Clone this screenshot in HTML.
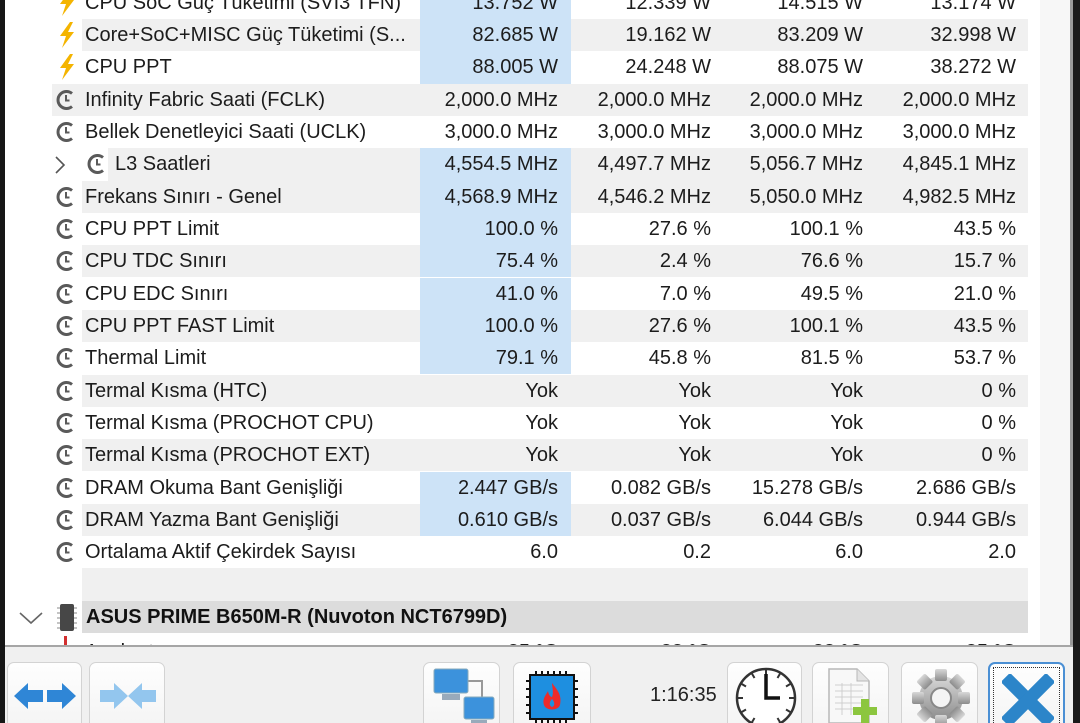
<!DOCTYPE html>
<html><head><meta charset="utf-8">
<style>
*{margin:0;padding:0;box-sizing:border-box}
html,body{width:1080px;height:723px;overflow:hidden;background:#f0f0f0;font-family:"Liberation Sans","DejaVu Sans",sans-serif;}
#root{position:relative;width:1080px;height:723px;overflow:hidden;background:#f0f0f0;}
#tbl{position:absolute;left:0;top:0;width:1073px;height:645px;overflow:hidden;background:#fff;}
.r{position:absolute;left:0;width:1073px;height:32.4px;color:#1c1c1c;font-size:20px;}
.g{position:absolute;top:0;bottom:0;right:45px;background:#f0f0f0;}
.h{position:absolute;top:0;bottom:0;right:45px;background:#dcdcdc;}
.hl{position:absolute;left:420px;width:151px;top:0;bottom:0;background:#cde3f7;}
.lb{position:absolute;left:85px;top:0;line-height:32.4px;white-space:nowrap;}
.v{position:absolute;top:0;line-height:32.4px;text-align:right;white-space:nowrap;}
.c1{left:400px;width:158px}.c2{left:551px;width:160px}.c3{left:704px;width:159px}.c4{left:856px;width:160px}
.ic{position:absolute;left:55px;top:4px;}
.bt{position:absolute;left:57px;top:3px;}
.btn{position:absolute;top:662px;height:75px;border:1px solid #d3d3d3;border-radius:7px;background:linear-gradient(#fefefe,#f3f3f3);}
</style></head><body><div id="root">
<div id="tbl">
<div style="position:absolute;left:1040px;top:0;width:30px;height:645px;background:#f7f7f7"></div>
<div style="position:absolute;left:1070px;top:0;width:3px;height:645px;background:#9a9a9a"></div>

<div class="r" style="top:-13.5px"><div class="hl"></div>
<svg class="bt" width="20" height="26" viewBox="0 0 20 26"><polygon points="13,0 3,14 9,14 5,26 17,10 11,10 16,0" fill="#f4b400"/></svg>
<span class="lb">CPU SoC Güç Tüketimi (SVI3 TFN)</span><span class="v c1">13.752 W</span><span class="v c2">12.339 W</span><span class="v c3">14.515 W</span><span class="v c4">13.174 W</span></div>
<div class="r" style="top:18.8px"><div class="g" style="left:82px"></div><div class="hl"></div>
<svg class="bt" width="20" height="26" viewBox="0 0 20 26"><polygon points="13,0 3,14 9,14 5,26 17,10 11,10 16,0" fill="#f4b400"/></svg>
<span class="lb">Core+SoC+MISC Güç Tüketimi (S...</span><span class="v c1">82.685 W</span><span class="v c2">19.162 W</span><span class="v c3">83.209 W</span><span class="v c4">32.998 W</span></div>
<div class="r" style="top:51.2px"><div class="hl"></div>
<svg class="bt" width="20" height="26" viewBox="0 0 20 26"><polygon points="13,0 3,14 9,14 5,26 17,10 11,10 16,0" fill="#f4b400"/></svg>
<span class="lb">CPU PPT</span><span class="v c1">88.005 W</span><span class="v c2">24.248 W</span><span class="v c3">88.075 W</span><span class="v c4">38.272 W</span></div>
<div class="r" style="top:83.5px"><div class="g" style="left:52px"></div>
<svg class="ic" width="22" height="24" viewBox="0 0 22 24"><path d="M17 5.5 A8.5 8.5 0 1 0 17 18.5" fill="none" stroke="#5a5a5a" stroke-width="3"/><path d="M11 7 V12.5 H14.5" fill="none" stroke="#5a5a5a" stroke-width="2"/></svg>
<span class="lb">Infinity Fabric Saati (FCLK)</span><span class="v c1">2,000.0 MHz</span><span class="v c2">2,000.0 MHz</span><span class="v c3">2,000.0 MHz</span><span class="v c4">2,000.0 MHz</span></div>
<div class="r" style="top:115.8px">
<svg class="ic" width="22" height="24" viewBox="0 0 22 24"><path d="M17 5.5 A8.5 8.5 0 1 0 17 18.5" fill="none" stroke="#5a5a5a" stroke-width="3"/><path d="M11 7 V12.5 H14.5" fill="none" stroke="#5a5a5a" stroke-width="2"/></svg>
<span class="lb">Bellek Denetleyici Saati (UCLK)</span><span class="v c1">3,000.0 MHz</span><span class="v c2">3,000.0 MHz</span><span class="v c3">3,000.0 MHz</span><span class="v c4">3,000.0 MHz</span></div>
<div class="r" style="top:148.2px"><div class="g" style="left:108px"></div><div class="hl"></div>
<svg style="position:absolute;left:54px;top:8px" width="12" height="18" viewBox="0 0 12 18"><polyline points="2,1 10,9 2,17" fill="none" stroke="#555" stroke-width="1.6"/></svg>
<svg class="ic" style="left:86px" width="22" height="24" viewBox="0 0 22 24"><path d="M17 5.5 A8.5 8.5 0 1 0 17 18.5" fill="none" stroke="#5a5a5a" stroke-width="3"/><path d="M11 7 V12.5 H14.5" fill="none" stroke="#5a5a5a" stroke-width="2"/></svg>
<span class="lb" style="left:115px">L3 Saatleri</span><span class="v c1">4,554.5 MHz</span><span class="v c2">4,497.7 MHz</span><span class="v c3">5,056.7 MHz</span><span class="v c4">4,845.1 MHz</span></div>
<div class="r" style="top:180.5px"><div class="g" style="left:82px"></div><div class="hl"></div>
<svg class="ic" width="22" height="24" viewBox="0 0 22 24"><path d="M17 5.5 A8.5 8.5 0 1 0 17 18.5" fill="none" stroke="#5a5a5a" stroke-width="3"/><path d="M11 7 V12.5 H14.5" fill="none" stroke="#5a5a5a" stroke-width="2"/></svg>
<span class="lb">Frekans Sınırı - Genel</span><span class="v c1">4,568.9 MHz</span><span class="v c2">4,546.2 MHz</span><span class="v c3">5,050.0 MHz</span><span class="v c4">4,982.5 MHz</span></div>
<div class="r" style="top:212.8px"><div class="hl"></div>
<svg class="ic" width="22" height="24" viewBox="0 0 22 24"><path d="M17 5.5 A8.5 8.5 0 1 0 17 18.5" fill="none" stroke="#5a5a5a" stroke-width="3"/><path d="M11 7 V12.5 H14.5" fill="none" stroke="#5a5a5a" stroke-width="2"/></svg>
<span class="lb">CPU PPT Limit</span><span class="v c1">100.0 %</span><span class="v c2">27.6 %</span><span class="v c3">100.1 %</span><span class="v c4">43.5 %</span></div>
<div class="r" style="top:245.1px"><div class="g" style="left:82px"></div><div class="hl"></div>
<svg class="ic" width="22" height="24" viewBox="0 0 22 24"><path d="M17 5.5 A8.5 8.5 0 1 0 17 18.5" fill="none" stroke="#5a5a5a" stroke-width="3"/><path d="M11 7 V12.5 H14.5" fill="none" stroke="#5a5a5a" stroke-width="2"/></svg>
<span class="lb">CPU TDC Sınırı</span><span class="v c1">75.4 %</span><span class="v c2">2.4 %</span><span class="v c3">76.6 %</span><span class="v c4">15.7 %</span></div>
<div class="r" style="top:277.5px"><div class="hl"></div>
<svg class="ic" width="22" height="24" viewBox="0 0 22 24"><path d="M17 5.5 A8.5 8.5 0 1 0 17 18.5" fill="none" stroke="#5a5a5a" stroke-width="3"/><path d="M11 7 V12.5 H14.5" fill="none" stroke="#5a5a5a" stroke-width="2"/></svg>
<span class="lb">CPU EDC Sınırı</span><span class="v c1">41.0 %</span><span class="v c2">7.0 %</span><span class="v c3">49.5 %</span><span class="v c4">21.0 %</span></div>
<div class="r" style="top:309.8px"><div class="g" style="left:82px"></div><div class="hl"></div>
<svg class="ic" width="22" height="24" viewBox="0 0 22 24"><path d="M17 5.5 A8.5 8.5 0 1 0 17 18.5" fill="none" stroke="#5a5a5a" stroke-width="3"/><path d="M11 7 V12.5 H14.5" fill="none" stroke="#5a5a5a" stroke-width="2"/></svg>
<span class="lb">CPU PPT FAST Limit</span><span class="v c1">100.0 %</span><span class="v c2">27.6 %</span><span class="v c3">100.1 %</span><span class="v c4">43.5 %</span></div>
<div class="r" style="top:342.1px"><div class="hl"></div>
<svg class="ic" width="22" height="24" viewBox="0 0 22 24"><path d="M17 5.5 A8.5 8.5 0 1 0 17 18.5" fill="none" stroke="#5a5a5a" stroke-width="3"/><path d="M11 7 V12.5 H14.5" fill="none" stroke="#5a5a5a" stroke-width="2"/></svg>
<span class="lb">Thermal Limit</span><span class="v c1">79.1 %</span><span class="v c2">45.8 %</span><span class="v c3">81.5 %</span><span class="v c4">53.7 %</span></div>
<div class="r" style="top:374.5px"><div class="g" style="left:82px"></div>
<svg class="ic" width="22" height="24" viewBox="0 0 22 24"><path d="M17 5.5 A8.5 8.5 0 1 0 17 18.5" fill="none" stroke="#5a5a5a" stroke-width="3"/><path d="M11 7 V12.5 H14.5" fill="none" stroke="#5a5a5a" stroke-width="2"/></svg>
<span class="lb">Termal Kısma (HTC)</span><span class="v c1">Yok</span><span class="v c2">Yok</span><span class="v c3">Yok</span><span class="v c4">0 %</span></div>
<div class="r" style="top:406.8px">
<svg class="ic" width="22" height="24" viewBox="0 0 22 24"><path d="M17 5.5 A8.5 8.5 0 1 0 17 18.5" fill="none" stroke="#5a5a5a" stroke-width="3"/><path d="M11 7 V12.5 H14.5" fill="none" stroke="#5a5a5a" stroke-width="2"/></svg>
<span class="lb">Termal Kısma (PROCHOT CPU)</span><span class="v c1">Yok</span><span class="v c2">Yok</span><span class="v c3">Yok</span><span class="v c4">0 %</span></div>
<div class="r" style="top:439.1px"><div class="g" style="left:82px"></div>
<svg class="ic" width="22" height="24" viewBox="0 0 22 24"><path d="M17 5.5 A8.5 8.5 0 1 0 17 18.5" fill="none" stroke="#5a5a5a" stroke-width="3"/><path d="M11 7 V12.5 H14.5" fill="none" stroke="#5a5a5a" stroke-width="2"/></svg>
<span class="lb">Termal Kısma (PROCHOT EXT)</span><span class="v c1">Yok</span><span class="v c2">Yok</span><span class="v c3">Yok</span><span class="v c4">0 %</span></div>
<div class="r" style="top:471.5px"><div class="hl"></div>
<svg class="ic" width="22" height="24" viewBox="0 0 22 24"><path d="M17 5.5 A8.5 8.5 0 1 0 17 18.5" fill="none" stroke="#5a5a5a" stroke-width="3"/><path d="M11 7 V12.5 H14.5" fill="none" stroke="#5a5a5a" stroke-width="2"/></svg>
<span class="lb">DRAM Okuma Bant Genişliği</span><span class="v c1">2.447 GB/s</span><span class="v c2">0.082 GB/s</span><span class="v c3">15.278 GB/s</span><span class="v c4">2.686 GB/s</span></div>
<div class="r" style="top:503.8px"><div class="g" style="left:82px"></div><div class="hl"></div>
<svg class="ic" width="22" height="24" viewBox="0 0 22 24"><path d="M17 5.5 A8.5 8.5 0 1 0 17 18.5" fill="none" stroke="#5a5a5a" stroke-width="3"/><path d="M11 7 V12.5 H14.5" fill="none" stroke="#5a5a5a" stroke-width="2"/></svg>
<span class="lb">DRAM Yazma Bant Genişliği</span><span class="v c1">0.610 GB/s</span><span class="v c2">0.037 GB/s</span><span class="v c3">6.044 GB/s</span><span class="v c4">0.944 GB/s</span></div>
<div class="r" style="top:536.1px">
<svg class="ic" width="22" height="24" viewBox="0 0 22 24"><path d="M17 5.5 A8.5 8.5 0 1 0 17 18.5" fill="none" stroke="#5a5a5a" stroke-width="3"/><path d="M11 7 V12.5 H14.5" fill="none" stroke="#5a5a5a" stroke-width="2"/></svg>
<span class="lb">Ortalama Aktif Çekirdek Sayısı</span><span class="v c1">6.0</span><span class="v c2">0.2</span><span class="v c3">6.0</span><span class="v c4">2.0</span></div>
<div class="r" style="top:568.4px"><div class="g" style="left:82px"></div></div>
<div class="r" style="top:600.8px"><div class="h" style="left:82px"></div>
<svg style="position:absolute;left:19px;top:10px" width="24" height="14" viewBox="0 0 24 14"><polyline points="1,2 12,12 23,2" fill="none" stroke="#666" stroke-width="1.6"/></svg>
<svg style="position:absolute;left:56px;top:2px" width="22" height="29" viewBox="0 0 22 29"><rect x="4" y="1" width="14" height="27" rx="2" fill="#474747"/><g stroke="#888" stroke-width="1"><line x1="1" y1="5" x2="4" y2="5"/><line x1="1" y1="10" x2="4" y2="10"/><line x1="1" y1="15" x2="4" y2="15"/><line x1="1" y1="20" x2="4" y2="20"/><line x1="1" y1="25" x2="4" y2="25"/><line x1="18" y1="5" x2="21" y2="5"/><line x1="18" y1="10" x2="21" y2="10"/><line x1="18" y1="15" x2="21" y2="15"/><line x1="18" y1="20" x2="21" y2="20"/><line x1="18" y1="25" x2="21" y2="25"/></g></svg>
<span class="lb" style="left:86px;font-weight:bold;color:#111">ASUS PRIME B650M-R (Nuvoton NCT6799D)</span></div>
<div class="r" style="top:636px">
<div style="position:absolute;left:64px;top:0px;width:3px;height:9px;background:#d23030"></div>
<span class="lb">Anakart</span><span class="v c1">35 °C</span><span class="v c2">33 °C</span><span class="v c3">38 °C</span><span class="v c4">35 °C</span></div>
</div>

<div style="position:absolute;left:0;top:645px;width:1073px;height:2px;background:#a6a6a6"></div>
<div style="position:absolute;left:0;top:0;width:5px;height:723px;background:#161616"></div>
<div style="position:absolute;left:1073px;top:0;width:7px;height:723px;background:#1a1a1a"></div>

<div class="btn" style="left:7px;width:75px">
<svg style="position:absolute;left:5px;top:18px" width="64" height="30" viewBox="0 0 64 30"><polygon points="1,15 15,2 15,9 30,9 30,21 15,21 15,28" fill="#2f86d6"/><polygon points="63,15 49,2 49,9 34,9 34,21 49,21 49,28" fill="#2f86d6"/></svg></div>
<div class="btn" style="left:89px;width:76px">
<svg style="position:absolute;left:8px;top:18px" width="60" height="30" viewBox="0 0 60 30"><polygon points="30,15 16,2 16,9 2,9 2,21 16,21 16,28" fill="#93c6ee"/><polygon points="30,15 44,2 44,9 58,9 58,21 44,21 44,28" fill="#93c6ee"/></svg></div>
<div class="btn" style="left:423px;width:77px">
<svg style="position:absolute;left:6px;top:4px" width="66" height="62" viewBox="0 0 66 62"><polyline points="30,14 52,14 52,34" fill="none" stroke="#999" stroke-width="2"/><rect x="4" y="2" width="34" height="24" rx="2" fill="#3c92dc" stroke="#8ab" stroke-width="1"/><rect x="12" y="27" width="18" height="6" fill="#9ab"/><rect x="34" y="30" width="30" height="22" rx="2" fill="#3c92dc" stroke="#8ab" stroke-width="1"/><rect x="41" y="53" width="16" height="6" fill="#9ab"/></svg></div>
<div class="btn" style="left:513px;width:78px">
<svg style="position:absolute;left:10px;top:6px" width="56" height="56" viewBox="0 0 56 56"><g stroke="#111" stroke-width="2"><line x1="12" y1="2" x2="12" y2="54"/><line x1="18" y1="2" x2="18" y2="54"/><line x1="24" y1="2" x2="24" y2="54"/><line x1="30" y1="2" x2="30" y2="54"/><line x1="36" y1="2" x2="36" y2="54"/><line x1="42" y1="2" x2="42" y2="54"/><line x1="2" y1="12" x2="54" y2="12"/><line x1="2" y1="20" x2="54" y2="20"/><line x1="2" y1="28" x2="54" y2="28"/><line x1="2" y1="36" x2="54" y2="36"/><line x1="2" y1="44" x2="54" y2="44"/></g><rect x="6" y="6" width="44" height="44" fill="#1e8fe0" stroke="#111" stroke-width="2"/><path d="M28 14 C34 22 38 26 36 36 C34 42 22 42 20 36 C18 30 22 26 24 22 C25 28 28 28 28 28 C30 24 28 18 28 14Z" fill="#ee2b2b"/><path d="M28 30 C31 33 31 37 28 38 C25 37 25 33 28 30Z" fill="#1e8fe0"/></svg></div>
<div style="position:absolute;left:650px;top:683px;font-size:20px;color:#222;line-height:24px">1:16:35</div>
<div class="btn" style="left:727px;width:75px">
<svg style="position:absolute;left:6px;top:1px" width="64" height="64" viewBox="0 0 64 64"><circle cx="32" cy="34" r="29" fill="#fff" stroke="#333" stroke-width="2.5"/><g stroke="#333" stroke-width="2"><line x1="32" y1="5" x2="32" y2="11"/><line x1="61" y1="34" x2="55" y2="34"/><line x1="3" y1="34" x2="9" y2="34"/><line x1="46.5" y1="8.9" x2="43.5" y2="14"/><line x1="57.1" y1="19.5" x2="52" y2="22.5"/><line x1="17.5" y1="8.9" x2="20.5" y2="14"/><line x1="6.9" y1="19.5" x2="12" y2="22.5"/><line x1="6.9" y1="48.5" x2="12" y2="45.5"/><line x1="57.1" y1="48.5" x2="52" y2="45.5"/><line x1="17.5" y1="59" x2="20.5" y2="54"/><line x1="46.5" y1="59" x2="43.5" y2="54"/></g><polyline points="32,10 32,34 46,34" fill="none" stroke="#111" stroke-width="3.5"/></svg></div>
<div class="btn" style="left:812px;width:77px">
<svg style="position:absolute;left:14px;top:4px" width="60" height="60" viewBox="0 0 60 60"><path d="M2 2 H30 L42 14 V56 H2Z" fill="#f8f8f8" stroke="#b8b8b8" stroke-width="1.5"/><path d="M30 2 V14 H42" fill="#e4e4e4" stroke="#b8b8b8" stroke-width="1"/><g stroke="#cfcfcf" stroke-width="1"><line x1="8" y1="18" x2="36" y2="18"/><line x1="8" y1="24" x2="36" y2="24"/><line x1="8" y1="30" x2="36" y2="30"/><line x1="8" y1="36" x2="36" y2="36"/><line x1="8" y1="42" x2="36" y2="42"/><line x1="15" y1="16" x2="15" y2="48"/><line x1="24" y1="16" x2="24" y2="48"/></g><path d="M34 32 H42 V40 H50 V48 H42 V56 H34 V48 H26 V40 H34Z" fill="#8cc63f"/></svg></div>
<div class="btn" style="left:901px;width:77px">
<svg style="position:absolute;left:8px;top:2px" width="62" height="62" viewBox="0 0 62 62"><defs><linearGradient id="gg" x1="0" y1="0" x2="0" y2="1"><stop offset="0" stop-color="#d8d8d8"/><stop offset="1" stop-color="#8c8c8c"/></linearGradient></defs><g fill="url(#gg)"><circle cx="31" cy="33" r="22"/><rect x="25" y="4" width="12" height="12" rx="2"/><rect x="25" y="50" width="12" height="12" rx="2"/><rect x="2" y="27" width="12" height="12" rx="2"/><rect x="48" y="27" width="12" height="12" rx="2"/><rect x="25" y="4" width="12" height="12" rx="2" transform="rotate(45 31 33)"/><rect x="25" y="4" width="12" height="12" rx="2" transform="rotate(-45 31 33)"/><rect x="25" y="4" width="12" height="12" rx="2" transform="rotate(135 31 33)"/><rect x="25" y="4" width="12" height="12" rx="2" transform="rotate(-135 31 33)"/></g><circle cx="31" cy="33" r="10" fill="#f4f4f4" stroke="#888" stroke-width="2"/></svg></div>
<div class="btn" style="left:988px;width:77px;border:2px solid #4a8fd4">
<div style="position:absolute;left:3px;top:3px;right:3px;bottom:0;border:1.5px dotted #333"></div>
<svg style="position:absolute;left:12px;top:10px" width="52" height="52" viewBox="0 0 52 52"><g stroke="#2c85c9" stroke-width="13" stroke-linecap="square"><line x1="8" y1="8" x2="44" y2="44"/><line x1="44" y1="8" x2="8" y2="44"/></g></svg></div>
</div></body></html>
